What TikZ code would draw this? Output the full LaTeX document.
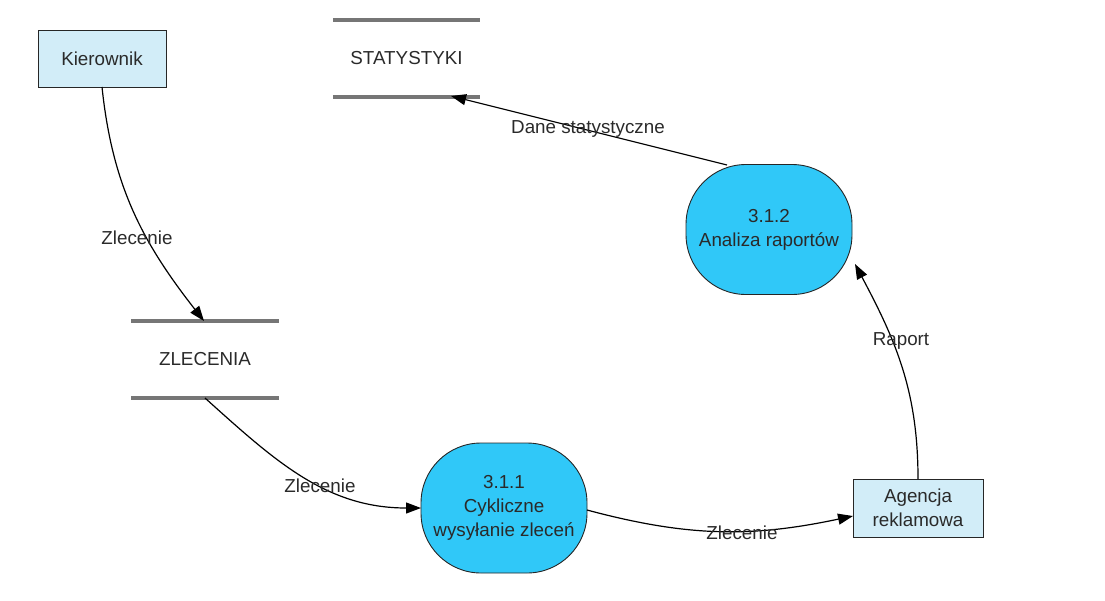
\documentclass[tikz,border=0pt]{standalone}
\usepackage{fontspec}
\setmainfont{Liberation Sans}
\usetikzlibrary{arrows.meta}
\definecolor{extfill}{HTML}{D2EDF8}
\definecolor{procfill}{HTML}{30C8F8}
\definecolor{storeline}{HTML}{767676}
\definecolor{txt}{HTML}{2A2A2A}
\begin{document}
\begin{tikzpicture}[x=1pt,y=-1pt,
  every node/.style={font=\fontsize{18.8}{24}\selectfont, text=txt},
  extbox/.style={draw=black!85, fill=extfill, line width=0.9pt, minimum width=#1, align=center, inner sep=0pt},
  procbox/.style={draw=black!85, fill=procfill, line width=0.9pt, minimum width=166pt, minimum height=130pt, rounded corners=60pt, align=center, inner sep=0pt},
  store/.style={draw=none, minimum width=147pt, minimum height=76pt, inner sep=0pt},
  storeline/.style={draw=storeline, line width=4pt},
  flow/.style={draw=black, line width=1.2pt, -{Triangle[length=15pt,width=11pt]}},
  lbl/.style={inner sep=1pt}
]
\useasboundingbox (0,0) rectangle (1105,600);

% external entities
\node[extbox=128pt, minimum height=57pt] (kier) at (102,58.5) {Kierownik};
\node[extbox=130pt, minimum height=58pt] (agen) at (918,508) {Agencja\\reklamowa};

% data stores
\node[store] (stat) at (406.5,58.5) {STATYSTYKI};
\draw[storeline] (stat.north west) -- (stat.north east);
\draw[storeline] (stat.south west) -- (stat.south east);
\node[store] (zlec) at (205,359.5) {ZLECENIA};
\draw[storeline] (zlec.north west) -- (zlec.north east);
\draw[storeline] (zlec.south west) -- (zlec.south east);

% processes
\node[procbox] (p312) at (769,229.5) {3.1.2\\Analiza raportów};
\node[procbox] (p311) at (504,508) {3.1.1\\Cykliczne\\wysyłanie zleceń};

% coordinates for connector ends
\coordinate (kA) at (102,87);
\coordinate (zT) at (204,321);
\coordinate (zB) at (205,398);
\coordinate (pL) at (421,508);
\coordinate (pR) at (587,510);
\coordinate (aL) at (853,516);
\coordinate (aT) at (918,479);
\coordinate (qR) at (855,264);
\coordinate (qT) at (727,165);
\coordinate (sB) at (451,96);

% flows
\draw[flow] (kA) to[out=-84,in=128] (zT);
\draw[flow] (zB) to[out=-42,in=180] (pL);
\draw[flow] (pR) to[out=-15,in=192] (aL);
\draw[flow] (aT) to[out=90,in=-62] (qR);
\draw[flow] (qT) -- (sB);

% labels
\node[lbl] (l1) at (137,238) {Zlecenie};
\node[lbl] (l2) at (320,486) {Zlecenie};
\node[lbl] (l3) at (742,533) {Zlecenie};
\node[lbl] (l4) at (901,341) {Raport};
\node[lbl] (l5) at (588,128.5) {Dane statystyczne};
\end{tikzpicture}
\end{document}
